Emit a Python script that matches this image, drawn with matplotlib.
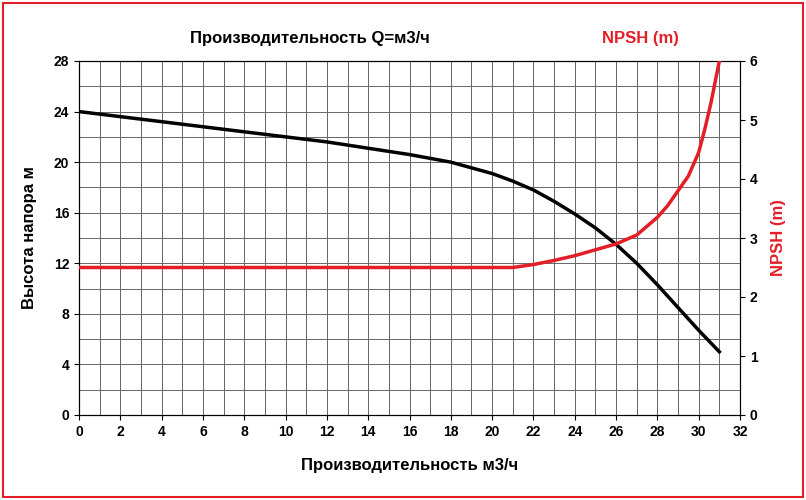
import matplotlib
matplotlib.use('Agg')
import matplotlib.pyplot as plt
from matplotlib.patches import Rectangle

# head curve
q_head = [0, 2, 4, 6, 8, 10, 12, 14, 16, 18, 20, 21, 22, 23, 24, 25, 26, 27, 28, 29, 30, 31]
head = [24, 23.6, 23.2, 22.8, 22.4, 22.0, 21.6, 21.1, 20.6, 20.0, 19.1, 18.5, 17.8, 16.9, 15.9, 14.8, 13.5, 12.0, 10.3, 8.5, 6.7, 5.0]

# npsh curve
q_npsh = [0, 21, 22, 23, 24, 25, 26, 27, 28, 28.5, 29, 29.5, 30, 30.3, 30.6, 30.8, 31]
npsh = [2.5, 2.5, 2.55, 2.62, 2.7, 2.8, 2.9, 3.05, 3.35, 3.55, 3.8, 4.05, 4.45, 4.85, 5.3, 5.65, 6.0]

plt.rcParams['font.family'] = ['Liberation Sans', 'DejaVu Sans']
plt.rcParams['font.weight'] = 'bold'

fig = plt.figure(figsize=(8.06, 5.0), dpi=100)
ax = fig.add_axes([79/806, 85/500, 661/806, 354/500])
ax2 = ax.twinx()

ax.plot(q_head, head, color='black', lw=2.5, zorder=3)
ax2.plot(q_npsh, npsh, color='#e41e26', lw=2.5, zorder=3)

ax.set_xlim(0, 32)
ax.set_ylim(0, 28)
ax2.set_ylim(0, 6)
ax.set_xticks(range(0, 33, 2))
ax.set_xticks(range(0, 33, 1), minor=True)
ax.set_yticks(range(0, 29, 4))
ax.set_yticks(range(0, 29, 2), minor=True)
ax2.set_yticks(range(0, 7))
ax.grid(True, which='both', color='#666666', lw=0.7)
ax.tick_params(which='minor', length=0)
ax.tick_params(labelsize=10)
ax2.tick_params(labelsize=10)
for t in ax.get_xticklabels() + ax.get_yticklabels() + ax2.get_yticklabels():
    t.set_fontweight('bold')

ax.set_xlabel('Производительность м3/ч', fontsize=12, fontweight='bold', labelpad=14)
ax.set_ylabel('Высота напора м', fontsize=12, fontweight='bold', labelpad=12)
ax2.set_ylabel('NPSH (m)', fontsize=12, fontweight='bold', color='#e41e26', labelpad=10)

fig.text(310/806, 1 - 38/500, 'Производительность Q=м3/ч', ha='center', va='center',
         fontsize=12, fontweight='bold')
fig.text(640/806, 1 - 38/500, 'NPSH (m)', ha='center', va='center',
         fontsize=12, fontweight='bold', color='#e41e26')

fig.patches.append(Rectangle((3/806, 3/500), 800/806, 494/500, transform=fig.transFigure,
                             fill=False, edgecolor='#e41e26', lw=1.5))

plt.savefig('out.png')
